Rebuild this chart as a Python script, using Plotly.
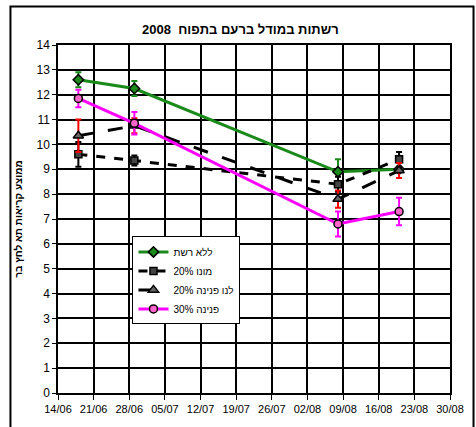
import plotly.graph_objects as go

# sampling dates
dates = ['2008-06-18', '2008-06-29', '2008-08-08', '2008-08-20']

# series values and error bars
no_net = [12.6, 12.25, 8.9, 9.0]
no_net_err = [0.3, 0.3, 0.5, 0.0]

mono_20 = [9.6, 9.35, 8.4, 9.4]
mono_20_err = [0.5, 0.2, 0.3, 0.3]

lano_pnina_20 = [10.35, 10.75, 7.8, 8.95]
lano_pnina_20_err = [0.65, 0.3, 0.35, 0.3]

pnina_30 = [11.85, 10.85, 6.8, 7.3]
pnina_30_err = [0.35, 0.45, 0.5, 0.55]

names = ['ללא רשת', 'מונו 20%', 'לנו פנינה 20%', 'פנינה 30%']

FONT = 'Arial, Liberation Sans, DejaVu Sans, sans-serif'

fig = go.Figure()

fig.add_trace(go.Scatter(
    x=dates, y=no_net, name=names[0], mode='lines+markers',
    line=dict(color='#1a8a1a', width=3),
    marker=dict(symbol='diamond', size=8, color='#1a8a1a',
                line=dict(color='black', width=1.5)),
    error_y=dict(type='data', array=no_net_err, color='#1a8a1a',
                 thickness=2, width=3),
))
fig.add_trace(go.Scatter(
    x=dates, y=mono_20, name=names[1], mode='lines+markers',
    line=dict(color='black', width=3, dash='dash'),
    marker=dict(symbol='square', size=7, color='#444444',
                line=dict(color='black', width=1.5)),
    error_y=dict(type='data', array=mono_20_err, color='black',
                 thickness=2, width=3),
))
fig.add_trace(go.Scatter(
    x=dates, y=lano_pnina_20, name=names[2], mode='lines+markers',
    line=dict(color='black', width=3, dash='longdash'),
    marker=dict(symbol='triangle-up', size=9, color='#666666',
                line=dict(color='black', width=1.5)),
    error_y=dict(type='data', array=lano_pnina_20_err, color='#ff0000',
                 thickness=2, width=3),
))
fig.add_trace(go.Scatter(
    x=dates, y=pnina_30, name=names[3], mode='lines+markers',
    line=dict(color='#ff00ff', width=3),
    marker=dict(symbol='circle', size=8, color='#ff66cc',
                line=dict(color='black', width=1.5)),
    error_y=dict(type='data', array=pnina_30_err, color='#ff00ff',
                 thickness=2, width=3),
))

fig.update_layout(
    width=476, height=427,
    paper_bgcolor='white', plot_bgcolor='white',
    font=dict(family=FONT, size=11, color='black'),
    margin=dict(l=58, r=14, t=45, b=30),
    title=dict(text='<b>רשתות במודל ברעם בתפוח  2008</b>', x=0.505, xanchor='center',
               y=0.932, yanchor='middle', font=dict(size=13)),
    showlegend=True,
    legend=dict(x=0.19, y=0.45, xanchor='left', yanchor='top',
                bgcolor='white', bordercolor='black', borderwidth=1,
                font=dict(size=10), itemwidth=30, tracegroupgap=0),
    xaxis=dict(
        type='date', range=['2008-06-14', '2008-08-30'],
        tick0='2008-06-14', dtick=7 * 24 * 3600 * 1000, tickformat='%d/%m',
        showgrid=True, gridcolor='black', gridwidth=1.5,
        showline=True, linecolor='black', linewidth=1.5, mirror=True,
        ticks='outside', ticklen=5, tickcolor='black',
        tickfont=dict(size=11), zeroline=False,
    ),
    yaxis=dict(
        range=[0, 14], dtick=1,
        showgrid=True, gridcolor='black', gridwidth=1.5,
        showline=True, linecolor='black', linewidth=1.5, mirror=True,
        ticks='outside', ticklen=4, tickcolor='black',
        tickfont=dict(size=12), zeroline=False,
        title=dict(text='<b>ממוצע קריאות תא לחץ בר</b>', font=dict(size=10), standoff=12),
    ),
    shapes=[dict(type='rect', xref='paper', yref='paper',
                 x0=-0.1213, x1=1.06, y0=-0.12, y1=1.1108,
                 line=dict(color='black', width=2), layer='below')],
)

fig.write_html('out.html', config={'displayModeBar': False},
               post_script="document.body.style.margin='0';")
